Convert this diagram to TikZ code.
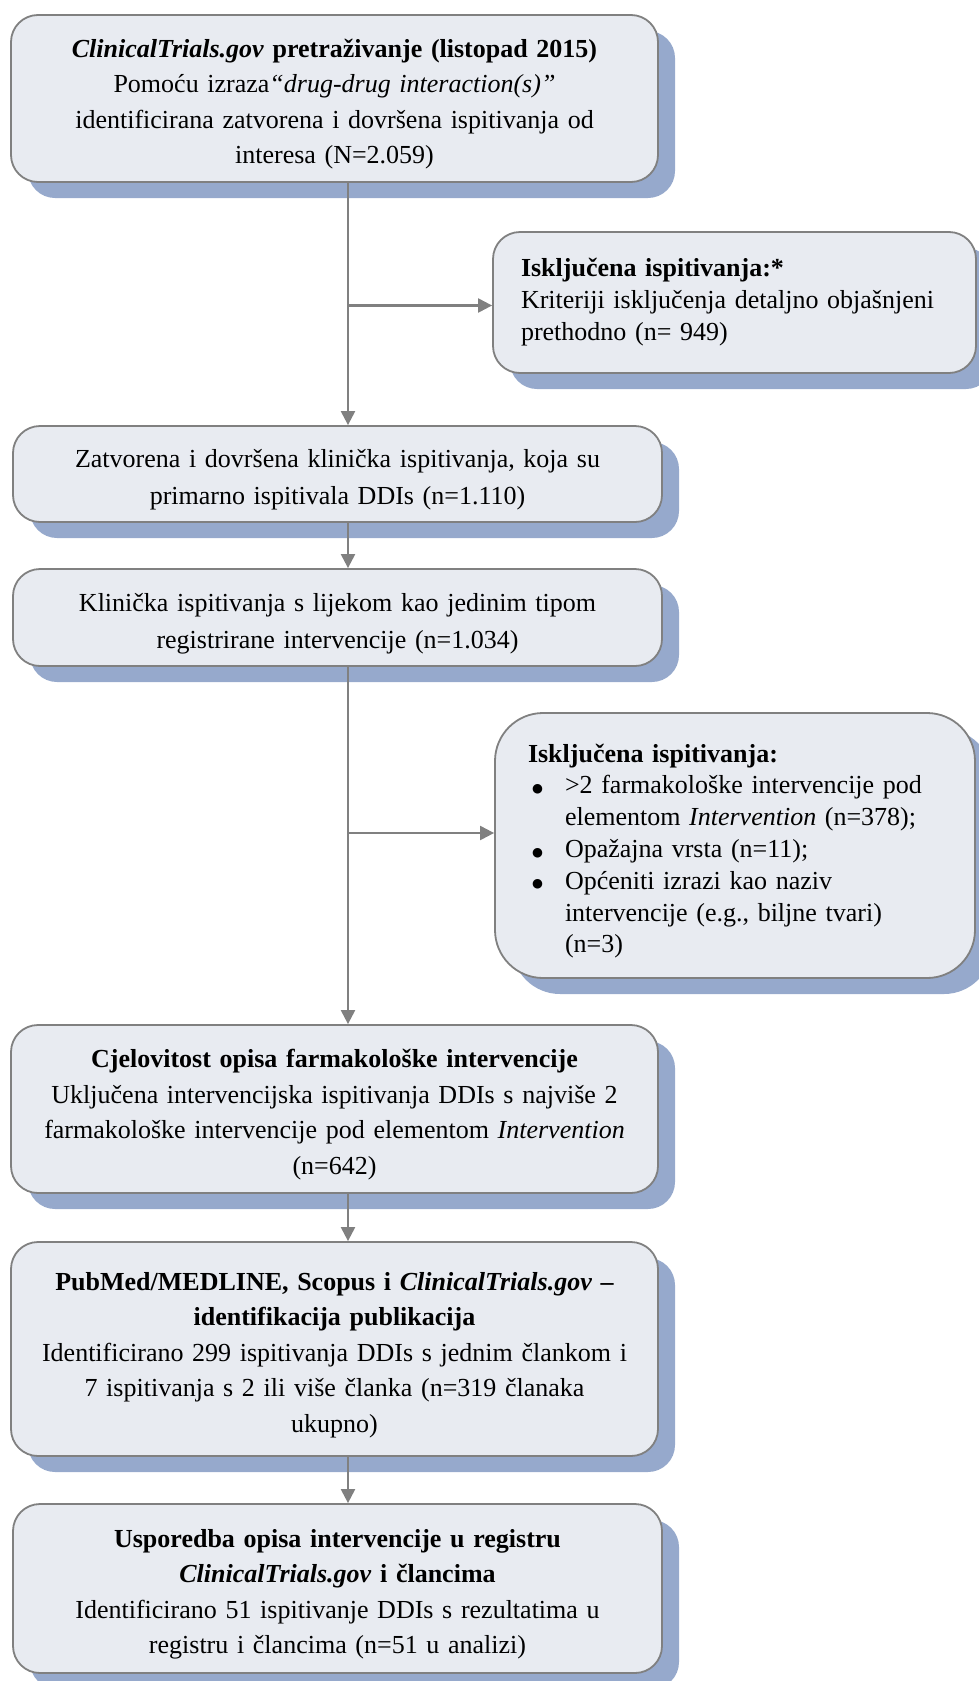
\documentclass[tikz,border=0pt]{standalone}
\usepackage{fontspec}
\setmainfont{Liberation Serif}
\newfontfamily\dejavu{DejaVu Sans}
\usetikzlibrary{arrows.meta,shadows}
\definecolor{boxfill}{RGB}{232,235,241}
\definecolor{linecol}{RGB}{128,128,128}
\definecolor{shadowcol}{RGB}{150,169,204}
\newcommand{\blt}{\hspace*{4pt}\makebox[33pt][l]{\raisebox{1.5pt}{\dejavu\fontsize{12.5}{12.5}\selectfont ●}}}
\newcommand{\topstr}{\rule{0pt}{32pt}}
\newcommand{\botstr}{\rule[-8pt]{0pt}{8pt}}
\tikzset{
  flowbox/.style={draw=linecol, line width=1.8pt, fill=boxfill, rounded corners=27pt,
    inner xsep=10pt, inner ysep=0pt, align=center,
    font=\fontsize{26}{35.5}\selectfont,
    drop shadow={shadow xshift=17pt, shadow yshift=-16pt, fill=shadowcol, opacity=1}},
  conn/.style={draw=linecol, line width=2.2pt, -{Triangle[length=14pt,width=14pt]}}
}
\begin{document}
\begin{tikzpicture}[x=1pt,y=-1pt]
\useasboundingbox (0,0) rectangle (979,1681);
\node[flowbox, minimum width=647pt, minimum height=167pt, text width=627pt] (b1) at (334.5,98.5)
 {\topstr\textbf{\textit{ClinicalTrials.gov} pretraživanje (listopad 2015)}\\
  Pomoću izraza\textit{“drug-drug interaction(s)”}\\
  identificirana zatvorena i dovršena ispitivanja od\\
  interesa (N=2.059)\botstr};
\node[flowbox, minimum width=483pt, minimum height=141pt, inner xsep=28pt, text width=427pt, align=left,
  font=\fontsize{26}{32}\selectfont] (b2) at (734.5,302.5)
 {\textbf{Isključena ispitivanja:*}\\
  Kriteriji isključenja detaljno objašnjeni\\
  prethodno (n= 949)};
\node[flowbox, minimum width=649pt, minimum height=96pt, text width=629pt, font=\fontsize{26}{37}\selectfont] (b3) at (337.5,474)
 {\topstr Zatvorena i dovršena klinička ispitivanja, koja su\\
  primarno ispitivala DDIs (n=1.110)\botstr};
\node[flowbox, minimum width=649pt, minimum height=97pt, text width=629pt, font=\fontsize{26}{37}\selectfont] (b4) at (337.5,617.5)
 {\topstr Klinička ispitivanja s lijekom kao jedinim tipom\\
  registrirane intervencije (n=1.034)\botstr};
\node[flowbox, rounded corners=48pt, minimum width=480pt, minimum height=265pt, inner xsep=33pt, text width=414pt, align=left,
  font=\fontsize{26}{31.8}\selectfont] (b5) at (735,845.5)
 {\topstr\textbf{Isključena ispitivanja:}\\
  \blt>2 farmakološke intervencije pod\\
  \hspace*{37pt}elementom \textit{Intervention} (n=378);\\
  \blt Opažajna vrsta (n=11);\\
  \blt Općeniti izrazi kao naziv\\
  \hspace*{37pt}intervencije (e.g., biljne tvari)\\
  \hspace*{37pt}(n=3)\botstr};
\node[flowbox, minimum width=647pt, minimum height=168pt, text width=627pt] (b6) at (334.5,1109)
 {\topstr\textbf{Cjelovitost opisa farmakološke intervencije}\\
  Uključena intervencijska ispitivanja DDIs s najviše 2\\
  farmakološke intervencije pod elementom \textit{Intervention}\\
  (n=642)\botstr};
\node[flowbox, minimum width=647pt, minimum height=214pt, text width=627pt] (b7) at (334.5,1349)
 {\topstr\textbf{PubMed/MEDLINE, Scopus i \textit{ClinicalTrials.gov} –}\\
  \textbf{identifikacija publikacija}\\
  Identificirano 299 ispitivanja DDIs s jednim člankom i\\
  7 ispitivanja s 2 ili više članka (n=319 članaka\\
  ukupno)\botstr};
\node[flowbox, minimum width=649pt, minimum height=169pt, text width=629pt] (b8) at (337.5,1588.5)
 {\topstr\textbf{Usporedba opisa intervencije u registru}\\
  \textbf{\textit{ClinicalTrials.gov} i člancima}\\
  Identificirano 51 ispitivanje DDIs s rezultatima u\\
  registru i člancima (n=51 u analizi)\botstr};
\coordinate (t) at (348,0);
\coordinate (br1) at (348,305.5);
\coordinate (br2) at (348,833);
\draw[conn] (b1.south -| t) -- (b3.north -| t);
\draw[conn] (br1) -- (br1 -| b2.west);
\draw[conn] (b3.south -| t) -- (b4.north -| t);
\draw[conn] (b4.south -| t) -- (b6.north -| t);
\draw[conn] (br2) -- (br2 -| b5.west);
\draw[conn] (b6.south -| t) -- (b7.north -| t);
\draw[conn] (b7.south -| t) -- (b8.north -| t);
\end{tikzpicture}
\end{document}
